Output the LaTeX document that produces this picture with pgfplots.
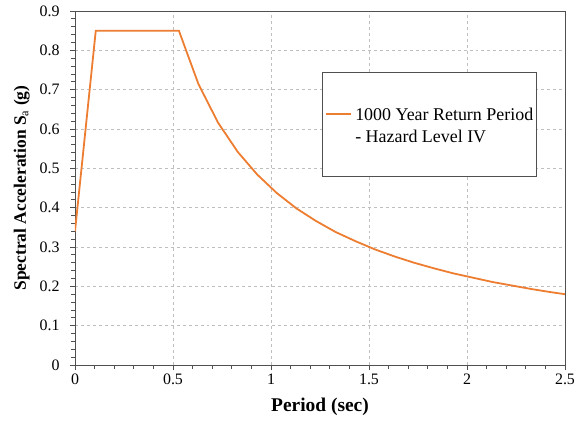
\documentclass[border=0pt]{standalone}
\usepackage{pgfplots}
\pgfplotsset{compat=1.18}
\usepackage{fontspec}
\setmainfont{Liberation Serif}
\definecolor{sporange}{RGB}{237,125,49}
\definecolor{axgray}{RGB}{80,80,80}
\begin{document}
\begin{tikzpicture}
\begin{axis}[
    scale only axis,
    width=490bp,
    height=354bp,
    xmin=0, xmax=2.5,
    ymin=0, ymax=0.9,
    xtick={0,0.5,1,1.5,2,2.5},
    ytick={0,0.1,0.2,0.3,0.4,0.5,0.6,0.7,0.8,0.9},
    minor x tick num=4,
    minor y tick num=4,
    xtick pos=bottom,
    ytick pos=left,
    tick align=outside,
    major tick length=5bp,
    minor tick length=4bp,
    tick style={axgray, line width=0.8bp},
    axis line style={axgray, line width=0.9bp},
    grid=major,
    major grid style={gray!50, dashed, line width=0.5bp},
    /pgf/number format/assume math mode=true,
    /pgf/number format/fixed,
    tick label style={font=\fontsize{16}{16}\selectfont, black},
    yticklabel style={xshift=-7bp},
    xlabel={\textbf{Period (sec)}},
    ylabel={\textbf{Spectral Acceleration S}\textsubscript{a}\textbf{ (g)}},
    xlabel style={font=\fontsize{19.5}{19.5}\selectfont, yshift=-7bp},
    ylabel style={font=\fontsize{17.5}{17.5}\selectfont, yshift=3bp},
    legend style={
        at={(rel axis cs:0.504,0.828)}, anchor=north west,
        draw=axgray, fill=white, line width=0.6bp,
        inner xsep=3bp, inner ysep=0bp,
        nodes={inner sep=0bp},
        font=\fontsize{18}{22}\selectfont,
    },
    legend image code/.code={
        \draw[sporange, line width=2bp] (3bp,10bp) -- (28bp,10bp);
    },
]
\addplot[sporange, line width=1.8bp] coordinates {
    (0,0.34) (0.106,0.85) (0.53,0.85) (0.63,0.714) (0.73,0.616)
    (0.83,0.542) (0.93,0.484) (1.03,0.437) (1.13,0.398) (1.23,0.366)
    (1.33,0.338) (1.43,0.315) (1.53,0.294) (1.63,0.276) (1.73,0.260)
    (1.83,0.246) (1.93,0.233) (2.03,0.222) (2.13,0.211) (2.23,0.202)
    (2.33,0.193) (2.43,0.185) (2.5,0.180)
};
\addlegendentry{\hspace{3bp}\rule{0pt}{103bp}\raisebox{33bp}{\begin{tabular}[b]{@{}l@{}}1000 Year Return Period\\- Hazard Level IV\end{tabular}}}
\end{axis}
\pgfresetboundingbox
\path[use as bounding box] ([shift={(-75bp,-57bp)}]current axis.south west) rectangle ([shift={(9bp,11bp)}]current axis.north east);
\end{tikzpicture}
\end{document}
